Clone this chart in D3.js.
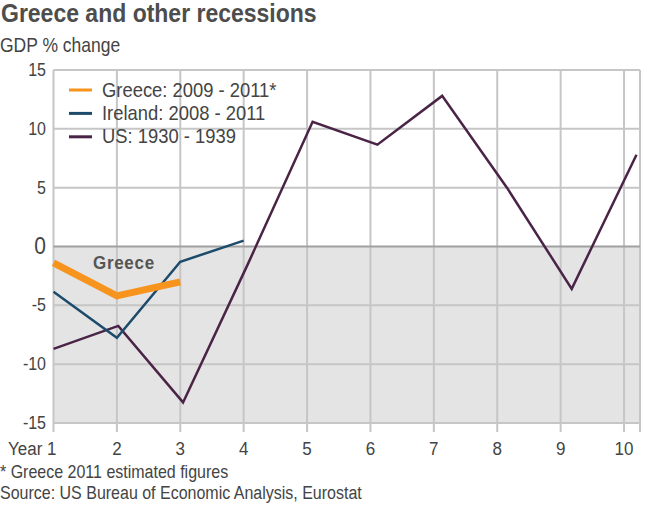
<!DOCTYPE html>
<html><head><meta charset="utf-8">
<script src="https://cdn.jsdelivr.net/npm/d3@7/dist/d3.min.js"></script>
<style>body{margin:0;background:#fff}svg{display:block;font-family:"Liberation Sans",Arial,sans-serif}</style>
</head><body><svg id="c" width="660" height="513"></svg>
<script>
const years = [1,2,3,4,5,6,7,8,9,10];
const greeceYears = [1,2,3];
const greece = [-1.4,-4.2,-3.0];
const irelandYears = [1,2,3,4];
const ireland = [-3.85,-7.75,-1.3,0.5];
const usYears = [1,2,3,4,5,6,7,8,9,10];
const us = [-8.7,-6.75,-13.25,-1.5,10.6,8.65,12.8,5.0,-3.6,7.8];
const yTicks = [15,10,5,0,-5,-10,-15];
const xTickLabels = ["Year 1","2","3","4","5","6","7","8","9","10"];
const legendLabels = ["Greece: 2009 - 2011*","Ireland: 2008 - 2011","US: 1930 - 1939"];
const colors = ["#f7941d","#1d4b6b","#4a2446"];

const svg = d3.select("#c");
const x = d3.scaleLinear().domain([1,10.252]).range([53.5,640]);
const xUS = d3.scaleLinear().domain([1,10]).range([53.5,636.5]);
const y = d3.scaleLinear().domain([-15,15]).range([423,70]);
const L = x.range()[0], R = x.range()[1], T = y(15), B = y(-15);
const SY = 1.13;

function txt(g, px, py, s, size, opts={}) {
  const t = g.append("text")
    .attr("transform",`translate(${px},${py}) scale(1,${SY})`)
    .attr("font-size",size).attr("fill",opts.fill||"#444")
    .attr("text-anchor",opts.anchor||"start").text(s);
  if (opts.bold) t.attr("font-weight","bold");
  if (opts.ls) t.attr("letter-spacing",opts.ls);
  return t;
}

svg.append("rect").attr("x",0).attr("y",0).attr("width",660).attr("height",513).attr("fill","#fff");
svg.append("rect").attr("x",L).attr("y",y(0)).attr("width",R-L).attr("height",B-y(0)).attr("fill","#e4e4e4");

const grid = svg.append("g").attr("stroke","#c6c6c6").attr("stroke-width",2);
yTicks.filter(v=>v!==0).forEach(v=>grid.append("line").attr("x1",L).attr("x2",R).attr("y1",y(v)).attr("y2",y(v)));
years.forEach(v=>grid.append("line").attr("x1",x(v)).attr("x2",x(v)).attr("y1",T).attr("y2",B+9));
grid.append("line").attr("x1",R).attr("x2",R).attr("y1",T).attr("y2",B+9);
svg.append("line").attr("x1",L).attr("x2",R).attr("y1",y(0)).attr("y2",y(0)).attr("stroke","#a0a0a0").attr("stroke-width",2);

// y labels
const yl = svg.append("g");
yTicks.forEach(d=>txt(yl, 46, y(d)+(d===0?7.5:6), String(d), d===0?21:16, {anchor:"end"}));
// x labels
const xl = svg.append("g");
years.forEach((d,i)=>txt(xl, d===1?x(d)+3:x(d), 455, xTickLabels[i], 17, {anchor:d===1?"end":"middle"}));

const line = (xs) => d3.line().x(d=>xs(d[0])).y(d=>y(d[1]));
svg.append("path").datum(usYears.map((d,i)=>[d,us[i]])).attr("d",line(xUS)).attr("fill","none").attr("stroke",colors[2]).attr("stroke-width",2.5);
svg.append("path").datum(irelandYears.map((d,i)=>[d,ireland[i]])).attr("d",line(x)).attr("fill","none").attr("stroke",colors[1]).attr("stroke-width",2.5);
svg.append("path").datum(greeceYears.map((d,i)=>[d,greece[i]])).attr("d",line(x)).attr("fill","none").attr("stroke",colors[0]).attr("stroke-width",7);

txt(svg, 93, 269, "Greece", 17, {bold:true, fill:"#555", ls:0.7});

// legend
const lg = svg.append("g");
legendLabels.forEach((t,i)=>{
  const yy = 90 + i*23.4;
  lg.append("line").attr("x1",69).attr("x2",92).attr("y1",yy).attr("y2",yy).attr("stroke",colors[i]).attr("stroke-width",3);
  txt(lg, 102, yy+6.5, t, 18.4);
});

txt(svg, 1, 22, "Greece and other recessions", 23, {bold:true, fill:"#4d4d4d"});
txt(svg, 0, 52, "GDP % change", 17.5);
txt(svg, 0, 478, "* Greece 2011 estimated figures", 16);
txt(svg, 0, 499, "Source: US Bureau of Economic Analysis, Eurostat", 16);
</script></body></html>
